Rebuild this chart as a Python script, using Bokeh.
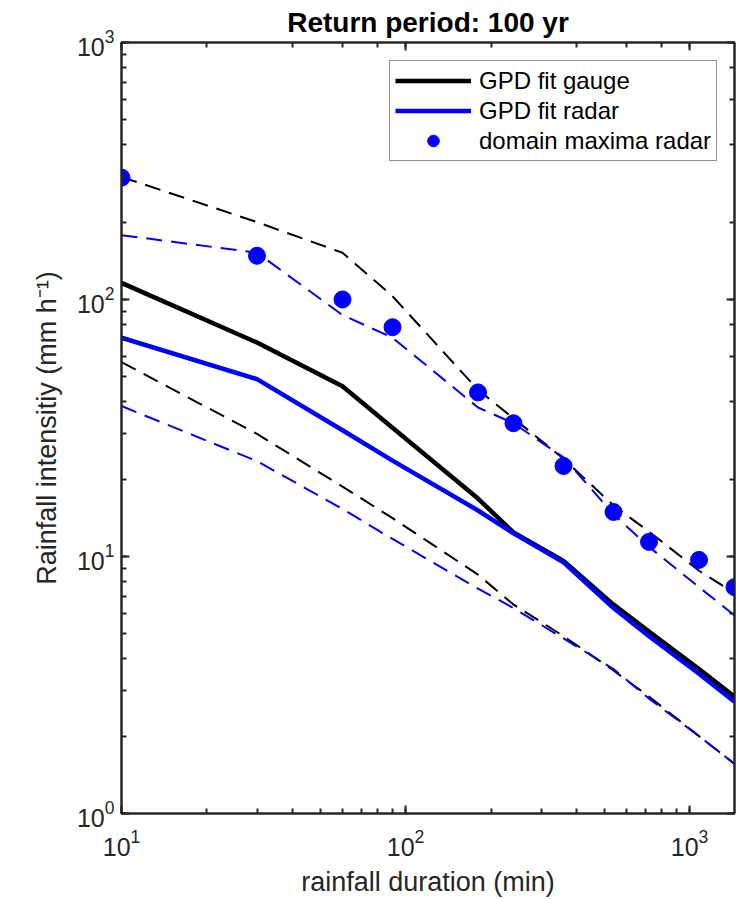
from bokeh.plotting import figure
from bokeh.models import LogAxis, LogTicker, Legend, LegendItem, Range1d
from bokeh.embed import file_html
from bokeh.resources import INLINE

# Rainfall durations (min)
durations = [10, 30, 60, 90, 180, 240, 360, 540, 720, 1080, 1440]

# 100-yr return level intensities (mm/h)
gauge_fit = [116, 68, 46, 31.7, 16.8, 12.4, 9.6, 6.5, 5.1, 3.65, 2.85]
gauge_upper = [300, 200, 152, 103, 44.5, 34.5, 24, 15.8, 12.5, 8.8, 7.2]
gauge_lower = [57, 30, 18.7, 14.1, 8.5, 6.5, 4.9, 3.6, 2.85, 2.0, 1.56]

radar_fit = [71, 49, 31, 23.6, 15.1, 12.3, 9.5, 6.3, 4.9, 3.5, 2.72]
radar_upper = [178, 152, 87, 71, 38, 33, 24.3, 14.6, 10.9, 7.6, 5.9]
radar_lower = [38.5, 23.5, 15.3, 11.7, 7.5, 6.3, 4.8, 3.65, 2.8, 2.0, 1.56]

radar_maxima = [298, 148, 100, 78, 43.5, 33, 22.5, 14.9, 11.4, 9.7, 7.6]

FONT = "Liberation Sans"
AX = "#262626"
BLUE = "#0000ff"
BLACK = "#000000"

p = figure(width=736, height=899,
           x_axis_type="log", y_axis_type="log",
           x_range=Range1d(10, 1440), y_range=Range1d(1, 1000),
           output_backend="svg", toolbar_location=None,
           min_border_left=121, min_border_right=2,
           min_border_top=41, min_border_bottom=84)
p.grid.visible = False
p.outline_line_color = AX
p.outline_line_width = 2
p.background_fill_color = "white"
p.border_fill_color = "white"

p.title.text = "Return period: 100 yr"
p.title.align = "center"
p.title.text_font = FONT
p.title.text_font_size = "28px"
p.title.text_font_style = "bold"
p.title.text_color = BLACK
p.title.standoff = 9


def style_axis(ax):
    ax.axis_line_color = AX
    ax.axis_line_width = 2
    ax.major_tick_line_color = AX
    ax.minor_tick_line_color = AX
    ax.major_tick_line_width = 2
    ax.minor_tick_line_width = 2
    ax.major_tick_in = 8
    ax.major_tick_out = 0
    ax.minor_tick_in = 5
    ax.minor_tick_out = 0
    ax.major_label_text_font = FONT
    ax.major_label_text_font_size = "25px"
    ax.major_label_text_color = AX
    ax.axis_label_text_font = FONT
    ax.axis_label_text_font_size = "27px"
    ax.axis_label_text_font_style = "normal"
    ax.axis_label_text_color = AX


for ax in p.xaxis + p.yaxis:
    style_axis(ax)

p.xaxis.axis_label = "rainfall duration (min)"
p.xaxis.major_label_standoff = 15
p.xaxis.axis_label_standoff = 8
p.yaxis.axis_label = "Rainfall intensitiy (mm h\u207b\u00b9)"
p.yaxis.major_label_standoff = 7
p.yaxis.axis_label_standoff = 12

# tick marks on the top and right edges of the box
for side in ("above", "right"):
    extra = LogAxis(ticker=LogTicker())
    style_axis(extra)
    extra.major_label_text_font_size = "0px"
    extra.major_label_text_alpha = 0
    extra.major_label_standoff = 0
    p.add_layout(extra, side)

dash = "16 9"
r_gauge = p.line(durations, gauge_fit, line_color=BLACK, line_width=4.5)
p.line(durations, gauge_upper, line_color=BLACK, line_width=2, line_dash=dash)
p.line(durations, gauge_lower, line_color=BLACK, line_width=2, line_dash=dash)
r_radar = p.line(durations, radar_fit, line_color=BLUE, line_width=4.5)
p.line(durations, radar_upper, line_color=BLUE, line_width=2, line_dash=dash)
p.line(durations, radar_lower, line_color=BLUE, line_width=2, line_dash=dash)
r_max = p.scatter(durations, radar_maxima, size=17, marker="circle",
                  fill_color=BLUE, line_color=BLUE)

legend = Legend(items=[
    LegendItem(label="GPD fit gauge", renderers=[r_gauge]),
    LegendItem(label="GPD fit radar", renderers=[r_radar]),
    LegendItem(label="domain maxima radar", renderers=[r_max]),
])
legend.location = (268, 652)
legend.margin = 0
legend.padding = 5
legend.spacing = 1
legend.glyph_width = 76
legend.glyph_height = 29
legend.label_standoff = 8
legend.label_text_font = FONT
legend.label_text_font_size = "24px"
legend.label_text_color = BLACK
legend.border_line_color = AX
legend.border_line_width = 1
legend.background_fill_color = "white"
legend.background_fill_alpha = 1
p.add_layout(legend)

open("out.html", "w").write(file_html(p, INLINE))
